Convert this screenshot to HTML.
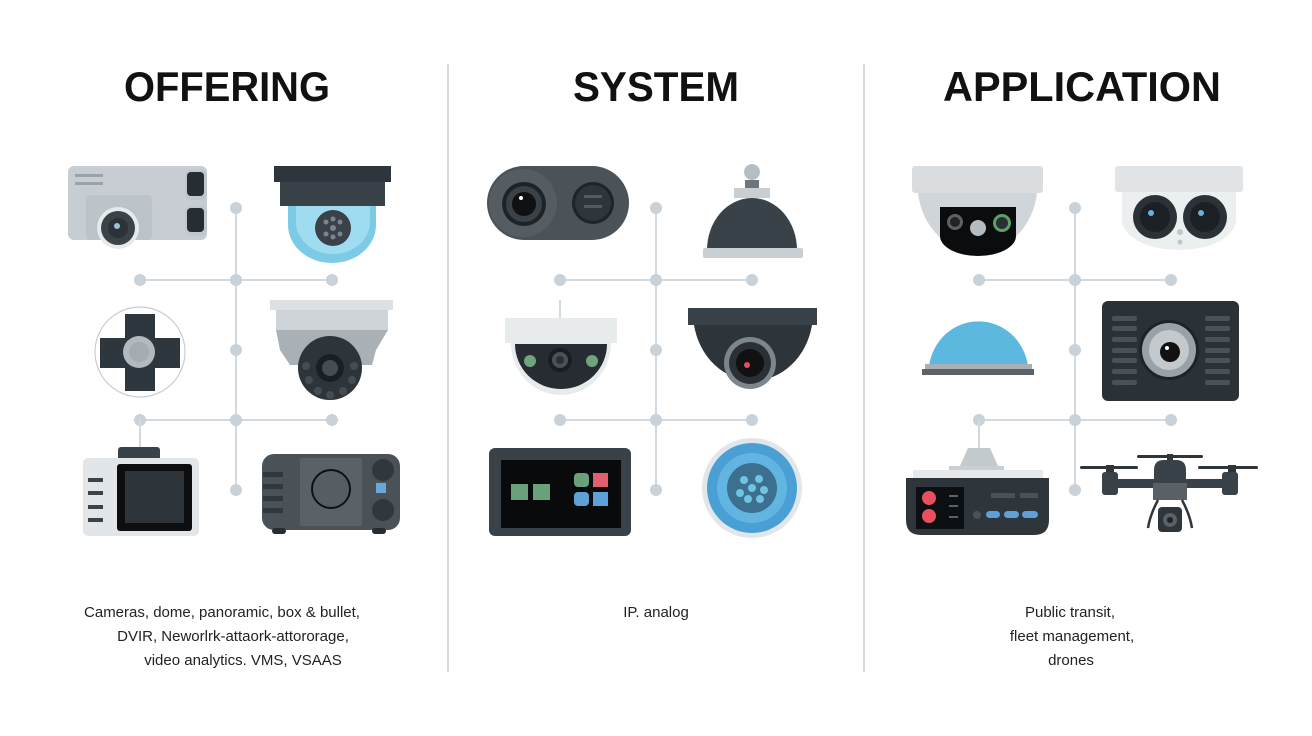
<!DOCTYPE html>
<html><head><meta charset="utf-8"><style>
html,body{margin:0;padding:0;background:#fff;}
svg{display:block;}
text{font-family:"Liberation Sans",sans-serif;}
</style></head><body>
<svg width="1312" height="736" viewBox="0 0 1312 736" xmlns="http://www.w3.org/2000/svg">
<rect width="1312" height="736" fill="#fff"/>
<!-- dividers -->
<line x1="448" y1="64" x2="448" y2="672" stroke="#d6d9dc" stroke-width="2"/>
<line x1="864" y1="64" x2="864" y2="672" stroke="#d6d9dc" stroke-width="2"/>
<!-- titles -->
<text x="227" y="101" font-size="42" font-weight="bold" text-anchor="middle" textLength="206" lengthAdjust="spacingAndGlyphs" fill="#111">OFFERING</text>
<text x="656" y="101" font-size="42" font-weight="bold" text-anchor="middle" textLength="166" lengthAdjust="spacingAndGlyphs" fill="#111">SYSTEM</text>
<text x="1082" y="101" font-size="42" font-weight="bold" text-anchor="middle" textLength="278" lengthAdjust="spacingAndGlyphs" fill="#111">APPLICATION</text>

<!-- connectors -->
<g stroke="#d3dadf" stroke-width="2" fill="#c9d2d8">
  <g id="conn">
  <line x1="236" y1="208" x2="236" y2="490"/>
  <line x1="140" y1="280" x2="332" y2="280"/>
  <line x1="140" y1="420" x2="332" y2="420"/>
  <g stroke="none">
  <circle cx="236" cy="208" r="6"/><circle cx="236" cy="280" r="6"/><circle cx="236" cy="350" r="6"/>
  <circle cx="236" cy="420" r="6"/><circle cx="236" cy="490" r="6"/>
  <circle cx="140" cy="280" r="6"/><circle cx="332" cy="280" r="6"/>
  <circle cx="140" cy="420" r="6"/><circle cx="332" cy="420" r="6"/>
  </g>
  </g>
  <use href="#conn" x="420"/>
  <use href="#conn" x="839"/>
  <line x1="140" y1="420" x2="140" y2="450"/>
  <line x1="560" y1="300" x2="560" y2="320"/>
  <line x1="979" y1="420" x2="979" y2="450"/>
</g>

<!-- ===== LEFT COLUMN ===== -->
<!-- box cam -->
<rect x="68" y="166" width="139" height="74" rx="6" fill="#c7cdd2"/>
<rect x="75" y="174" width="28" height="3" fill="#9aa3aa"/><rect x="75" y="182" width="28" height="3" fill="#9aa3aa"/>
<rect x="86" y="195" width="66" height="45" rx="4" fill="#bcc3c9"/>
<circle cx="118" cy="228" r="21" fill="#e6eaec"/><circle cx="118" cy="228" r="17" fill="#3b4349"/><circle cx="118" cy="228" r="10" fill="#2b3238"/><circle cx="117" cy="226" r="3" fill="#9cc3da"/>
<rect x="185" y="170" width="22" height="30" rx="6" fill="#c0c7cc"/><rect x="187" y="172" width="17" height="24" rx="4" fill="#262d33"/>
<rect x="185" y="206" width="22" height="30" rx="6" fill="#c0c7cc"/><rect x="187" y="208" width="17" height="24" rx="4" fill="#262d33"/>
<!-- dome blue -->
<path d="M288 205 L376 205 L376 225 A44 38 0 0 1 288 225 Z" fill="#7ccbe6"/>
<path d="M296 205 L370 205 L370 222 A37 32 0 0 1 296 222Z" fill="#9fdcef"/>
<rect x="274" y="166" width="117" height="16" fill="#2e353c"/>
<rect x="280" y="182" width="105" height="24" fill="#3a4249"/>
<circle cx="333" cy="228" r="18" fill="#3a4148"/>
<g fill="#7c858c"><circle cx="333" cy="228" r="3"/><circle cx="326" cy="222" r="2.5"/><circle cx="340" cy="222" r="2.5"/><circle cx="326" cy="234" r="2.5"/><circle cx="340" cy="234" r="2.5"/><circle cx="333" cy="219" r="2.5"/><circle cx="333" cy="237" r="2.5"/></g>
<!-- cross -->
<circle cx="140" cy="352" r="45" fill="#fff" stroke="#c8cdd1" stroke-width="1.2"/>
<rect x="125" y="314" width="30" height="77" fill="#2f373e"/>
<rect x="100" y="338" width="80" height="30" fill="#2f373e"/>
<circle cx="139" cy="352" r="16" fill="#b2babf"/><circle cx="139" cy="352" r="10" fill="#a3acb2"/>
<!-- dome gray mid right -->
<rect x="270" y="300" width="123" height="10" fill="#dde1e4"/>
<rect x="276" y="310" width="112" height="20" fill="#cdd3d7"/>
<path d="M276 330 L388 330 L376 350 L372 365 L290 365 L280 350Z" fill="#a9b1b6"/>
<circle cx="330" cy="368" r="32" fill="#2d343a"/>
<circle cx="330" cy="368" r="14" fill="#1a1f23"/><circle cx="330" cy="368" r="8" fill="#454d53"/>
<g fill="#454d53"><circle cx="309" cy="380" r="4"/><circle cx="318" cy="391" r="4"/><circle cx="330" cy="395" r="4"/><circle cx="343" cy="391" r="4"/><circle cx="352" cy="380" r="4"/><circle cx="306" cy="366" r="4"/><circle cx="354" cy="366" r="4"/></g>
<!-- bottom left screen device -->
<rect x="118" y="447" width="42" height="14" rx="3" fill="#3a4249"/>
<rect x="83" y="458" width="116" height="78" rx="5" fill="#e3e6e8"/>
<g fill="#3b4349"><rect x="88" y="478" width="15" height="4"/><rect x="88" y="491" width="15" height="4"/><rect x="88" y="505" width="15" height="4"/><rect x="88" y="518" width="15" height="4"/></g>
<rect x="117" y="464" width="75" height="67" rx="3" fill="#0c0e10"/>
<rect x="125" y="471" width="59" height="52" fill="#2d343a"/>
<!-- projector -->
<rect x="262" y="454" width="138" height="76" rx="12" fill="#4a5157"/>
<rect x="300" y="458" width="62" height="68" fill="#5a6268"/>
<g fill="#30373d"><rect x="263" y="472" width="20" height="5"/><rect x="263" y="484" width="20" height="5"/><rect x="263" y="496" width="20" height="5"/><rect x="263" y="508" width="20" height="5"/></g>
<circle cx="331" cy="489" r="19" fill="#565e64" stroke="#111" stroke-width="2"/>
<circle cx="383" cy="470" r="11" fill="#30373d"/><circle cx="383" cy="510" r="11" fill="#30373d"/>
<rect x="376" y="483" width="10" height="10" fill="#6aa7d8"/>
<rect x="272" y="528" width="14" height="6" rx="3" fill="#262c31"/><rect x="372" y="528" width="14" height="6" rx="3" fill="#262c31"/>

<!-- ===== MIDDLE ===== -->
<rect x="487" y="166" width="142" height="74" rx="37" fill="#4b5258"/>
<circle cx="523" cy="203" r="34" fill="#555d63"/>
<circle cx="524" cy="204" r="22" fill="#1e2327"/><circle cx="524" cy="204" r="18" fill="#3a4147"/><circle cx="524" cy="204" r="12" fill="#111"/><circle cx="521" cy="198" r="2" fill="#fff"/>
<circle cx="593" cy="203" r="21" fill="#1e2327"/><circle cx="593" cy="203" r="18" fill="#2e353b"/>
<rect x="584" y="195" width="18" height="3" fill="#535b61"/><rect x="584" y="205" width="18" height="3" fill="#535b61"/>
<!-- bell dome -->
<circle cx="752" cy="172" r="8" fill="#b7bec3"/>
<rect x="745" y="180" width="14" height="10" fill="#6d757b"/>
<rect x="734" y="188" width="36" height="10" fill="#c8ced2"/>
<path d="M707 250 A45 52 0 0 1 797 250 Z" fill="#3a4249"/>
<rect x="703" y="248" width="100" height="10" rx="2" fill="#c9d0d4"/>
<!-- white dome -->
<rect x="505" y="318" width="112" height="25" fill="#e8ebec"/>
<path d="M511 343 L611 343 A50 52 0 0 1 511 343Z" fill="#e8ebec"/>
<path d="M515 344 L607 344 A46 45 0 0 1 515 344Z" fill="#262c31"/>
<circle cx="530" cy="361" r="6" fill="#6fa57b"/><circle cx="592" cy="361" r="6" fill="#6fa57b"/>
<circle cx="560" cy="360" r="12" fill="#1a1e22"/><circle cx="560" cy="360" r="8" fill="#4a5258"/><circle cx="560" cy="360" r="4" fill="#2a3035"/>
<!-- dark dome -->
<rect x="688" y="308" width="129" height="17" fill="#3a4249"/>
<path d="M694 325 L812 325 A60 68 0 0 1 694 325Z" fill="#2d343a"/>
<circle cx="750" cy="363" r="26" fill="#7d868b"/><circle cx="750" cy="363" r="21" fill="#2a3035"/><circle cx="750" cy="363" r="14" fill="#111"/><circle cx="747" cy="365" r="3" fill="#e05060"/>
<!-- monitor -->
<rect x="489" y="448" width="142" height="88" rx="6" fill="#3a4249"/>
<rect x="501" y="460" width="120" height="68" fill="#080a0c"/>
<rect x="511" y="484" width="17" height="16" fill="#6aa07a"/><rect x="533" y="484" width="17" height="16" fill="#6aa07a"/>
<rect x="574" y="473" width="15" height="14" rx="4" fill="#6aa07a"/><rect x="593" y="473" width="15" height="14" fill="#e06070"/>
<rect x="574" y="492" width="15" height="14" rx="4" fill="#5ea0d8"/><rect x="593" y="492" width="15" height="14" fill="#5ea0d8"/>
<!-- blue round -->
<circle cx="752" cy="488" r="50" fill="#e2e6e8"/>
<circle cx="752" cy="488" r="45" fill="#4a9fd4"/>
<circle cx="752" cy="488" r="35" fill="#62b5e0"/>
<circle cx="752" cy="488" r="25" fill="#3d6f8e"/>
<g fill="#6fc3e3"><circle cx="752" cy="488" r="4"/><circle cx="744" cy="480" r="4"/><circle cx="759" cy="479" r="4"/><circle cx="764" cy="490" r="4"/><circle cx="740" cy="493" r="4"/><circle cx="748" cy="499" r="4"/><circle cx="760" cy="499" r="4"/></g>

<!-- ===== RIGHT ===== -->
<rect x="912" y="166" width="131" height="27" rx="3" fill="#d9dde0"/>
<path d="M918 193 L1037 193 A60 68 0 0 1 918 193Z" fill="#cfd5d8"/>
<path d="M940 207 L1016 207 L1016 236 A38 20 0 0 1 940 236Z" fill="#0a0c0e"/>
<circle cx="955" cy="222" r="8" fill="#5a6268"/><circle cx="955" cy="222" r="5" fill="#222"/>
<circle cx="978" cy="228" r="8" fill="#b5bcc1"/>
<circle cx="1002" cy="223" r="9" fill="#5aa06a"/><circle cx="1002" cy="223" r="6" fill="#2a2f33"/>
<!-- dual lens -->
<rect x="1115" y="166" width="128" height="26" rx="3" fill="#e1e4e6"/>
<path d="M1122 192 L1236 192 L1236 220 A57 30 0 0 1 1122 220Z" fill="#eceff0"/>
<circle cx="1155" cy="217" r="22" fill="#2a3137"/><circle cx="1155" cy="217" r="15" fill="#1b2024"/><circle cx="1151" cy="213" r="3" fill="#6ab0e0"/>
<circle cx="1205" cy="217" r="22" fill="#2a3137"/><circle cx="1205" cy="217" r="15" fill="#1b2024"/><circle cx="1201" cy="213" r="3" fill="#6ab0e0"/>
<circle cx="1180" cy="232" r="3" fill="#c0c6ca"/><circle cx="1180" cy="242" r="2.5" fill="#c0c6ca"/>
<!-- blue dome -->
<path d="M929 366 A50 52 0 0 1 1028 366 Z" fill="#5db8e0"/>
<rect x="925" y="364" width="107" height="6" fill="#a8b0b5"/>
<rect x="922" y="369" width="112" height="6" fill="#5b6369"/>
<!-- panel -->
<rect x="1102" y="301" width="137" height="100" rx="6" fill="#2a3137"/>
<g fill="#4a5258"><rect x="1112" y="316" width="25" height="5" rx="2"/><rect x="1112" y="326" width="25" height="5" rx="2"/><rect x="1112" y="337" width="25" height="5" rx="2"/><rect x="1112" y="348" width="25" height="5" rx="2"/><rect x="1112" y="358" width="25" height="5" rx="2"/><rect x="1112" y="369" width="25" height="5" rx="2"/><rect x="1112" y="380" width="25" height="5" rx="2"/>
<rect x="1205" y="316" width="25" height="5" rx="2"/><rect x="1205" y="326" width="25" height="5" rx="2"/><rect x="1205" y="337" width="25" height="5" rx="2"/><rect x="1205" y="348" width="25" height="5" rx="2"/><rect x="1205" y="358" width="25" height="5" rx="2"/><rect x="1205" y="369" width="25" height="5" rx="2"/><rect x="1205" y="380" width="25" height="5" rx="2"/></g>
<circle cx="1169" cy="350" r="30" fill="#1e2327"/><circle cx="1169" cy="350" r="27" fill="#9aa2a7"/><circle cx="1169" cy="350" r="20" fill="#c3c9cc"/><circle cx="1170" cy="352" r="10" fill="#111"/><circle cx="1167" cy="348" r="2" fill="#fff"/>
<!-- DVR unit -->
<path d="M960 466 L968 448 L990 448 L998 466Z" fill="#c3cace"/>
<rect x="949" y="466" width="55" height="12" fill="#c9cfd3"/>
<rect x="913" y="470" width="130" height="10" fill="#e6e9eb"/>
<path d="M906 478 L1049 478 L1049 520 Q1049 535 1034 535 L921 535 Q906 535 906 520Z" fill="#2e353b"/>
<rect x="916" y="487" width="48" height="42" fill="#0d1013"/>
<circle cx="929" cy="498" r="7" fill="#e8505d"/><circle cx="929" cy="516" r="7" fill="#e8505d"/>
<g fill="#5a6268"><rect x="949" y="495" width="9" height="2"/><rect x="949" y="505" width="9" height="2"/><rect x="949" y="516" width="9" height="2"/></g>
<rect x="991" y="493" width="24" height="5" fill="#4a5258"/><rect x="1020" y="493" width="18" height="5" fill="#4a5258"/>
<circle cx="977" cy="515" r="4" fill="#4a5258"/>
<rect x="986" y="511" width="14" height="7" rx="3.5" fill="#5ea0d8"/><rect x="1004" y="511" width="15" height="7" rx="3.5" fill="#5ea0d8"/><rect x="1022" y="511" width="16" height="7" rx="3.5" fill="#5ea0d8"/>
<!-- drone -->
<g fill="#2e353b" stroke="none">
<rect x="1137" y="455" width="66" height="3" rx="1.5"/>
<rect x="1080" y="466" width="58" height="3" rx="1.5"/><rect x="1198" y="466" width="60" height="3" rx="1.5"/>
<rect x="1106" y="465" width="8" height="10"/><rect x="1228" y="465" width="8" height="10"/><rect x="1167" y="454" width="6" height="8"/>
<rect x="1102" y="472" width="16" height="23" rx="3" fill="#3a4249"/><rect x="1222" y="472" width="16" height="23" rx="3" fill="#3a4249"/>
<rect x="1112" y="479" width="116" height="9" fill="#3a4249"/>
<path d="M1154 498 L1154 470 Q1154 460 1164 460 L1176 460 Q1186 460 1186 470 L1186 498Z" fill="#3a4249"/>
<rect x="1153" y="483" width="34" height="17" fill="#596167"/>
<path d="M1158 500 Q1150 515 1148 528 M1182 500 Q1190 515 1192 528" fill="none" stroke="#2e353b" stroke-width="2.5"/>
<rect x="1158" y="507" width="24" height="25" rx="4"/>
<circle cx="1170" cy="520" r="7" fill="#596167"/><circle cx="1170" cy="520" r="3" fill="#222"/>
</g>

<!-- bottom text -->
<g font-size="15" fill="#222" text-anchor="middle">
<text x="222" y="617">Cameras, dome, panoramic, box &amp; bullet,</text>
<text x="233" y="641">DVIR, Neworlrk-attaork-attororage,</text>
<text x="243" y="665">video analytics. VMS, VSAAS</text>
<text x="656" y="617">IP. analog</text>
<text x="1070" y="617">Public transit,</text>
<text x="1072" y="641">fleet management,</text>
<text x="1071" y="665">drones</text>
</g>
</svg>
</body></html>
